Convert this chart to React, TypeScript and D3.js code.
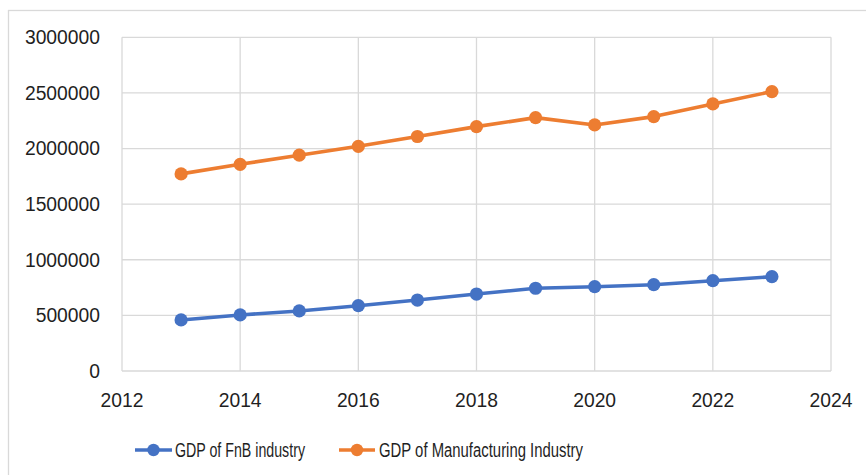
import React from "react";
import * as d3 from "d3";

const years = [2013, 2014, 2015, 2016, 2017, 2018, 2019, 2020, 2021, 2022, 2023];
const fnb = [459000, 504000, 540000, 587000, 638000, 692000, 744000, 758000, 776000, 812000, 848000];
const manufacturing = [1772000, 1858000, 1940000, 2020000, 2108000, 2197000, 2278000, 2212000, 2287000, 2401000, 2512000];
const xTicks = [2012, 2014, 2016, 2018, 2020, 2022, 2024];
const yTicks = [0, 500000, 1000000, 1500000, 2000000, 2500000, 3000000];
const seriesNames = ["GDP of FnB industry", "GDP of Manufacturing Industry"];
const seriesColors = ["#4472C4", "#ED7D31"];

const W = 866;
const H = 475;
const left = 122;
const right = 831;
const top = 37.3;
const bottom = 371;

export default function App() {
  const x = d3.scaleLinear().domain([2012, 2024]).range([left, right]);
  const y = d3.scaleLinear().domain([0, 3000000]).range([bottom, top]);
  const line = d3
    .line<[number, number]>()
    .x((d) => x(d[0]))
    .y((d) => y(d[1]));
  const series = [fnb, manufacturing];
  const font = "'Liberation Sans', Arial, sans-serif";
  const textColor = "#1f1f1f";
  const legendItems = [
    { x1: 135, x2: 172, tx: 175, tw: 130 },
    { x1: 339, x2: 375, tx: 379, tw: 204 },
  ];
  return (
    <svg
      width={W}
      height={H}
      style={{ position: "absolute", left: 0, top: 0, background: "#fff" }}
      fontFamily={font}
    >
      <rect x={8.5} y={10.5} width={900} height={500} fill="#fff" stroke="#d9d9d9" strokeWidth={1.3} />
      {yTicks.map((t) => (
        <line key={"gy" + t} x1={left} x2={right} y1={y(t)} y2={y(t)} stroke="#d9d9d9" strokeWidth={1.3} />
      ))}
      {xTicks.map((t) => (
        <line key={"gx" + t} x1={x(t)} x2={x(t)} y1={top} y2={bottom} stroke="#d9d9d9" strokeWidth={1.3} />
      ))}
      {yTicks.map((t) => (
        <text key={"ly" + t} x={100} y={y(t)} dy="0.36em" textAnchor="end" fontSize={19.3} fill={textColor}>
          {t}
        </text>
      ))}
      {xTicks.map((t) => (
        <text key={"lx" + t} x={x(t)} y={406.5} textAnchor="middle" fontSize={19.3} fill={textColor}>
          {t}
        </text>
      ))}
      {series.map((vals, i) => {
        const pts: [number, number][] = years.map((yr, j) => [yr, vals[j]]);
        return (
          <g key={"s" + i}>
            <path d={line(pts) || ""} fill="none" stroke={seriesColors[i]} strokeWidth={3.6} strokeLinejoin="round" />
            {pts.map((p, j) => (
              <circle key={j} cx={x(p[0])} cy={y(p[1])} r={6.6} fill={seriesColors[i]} />
            ))}
          </g>
        );
      })}
      {legendItems.map((it, i) => (
        <g key={"lg" + i}>
          <line x1={it.x1} x2={it.x2} y1={450} y2={450} stroke={seriesColors[i]} strokeWidth={3.6} />
          <circle cx={(it.x1 + it.x2) / 2} cy={450} r={6.2} fill={seriesColors[i]} />
          <text
            x={it.tx}
            y={457}
            fontSize={19.5}
            fill={textColor}
            textLength={it.tw}
            lengthAdjust="spacingAndGlyphs"
          >
            {seriesNames[i]}
          </text>
        </g>
      ))}
    </svg>
  );
}
